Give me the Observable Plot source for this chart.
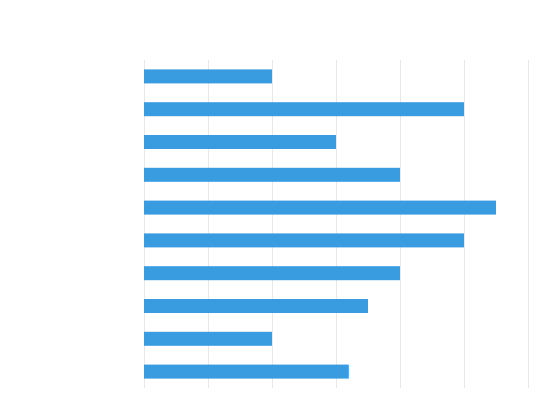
<!DOCTYPE html>
<html>
<head>
<meta charset="utf-8">
<script src="https://cdn.jsdelivr.net/npm/d3@7"></script>
<script src="https://cdn.jsdelivr.net/npm/@observablehq/plot@0.6"></script>
<style>
  body { margin: 0; background: #fff; }
  svg { display: block; }
</style>
</head>
<body>
<div id="chart"></div>
<script>
const categories = ["A", "B", "C", "D", "E", "F", "G", "H", "I", "J"];
const values = [2, 5, 3, 4, 5.5, 5, 4, 3.5, 2, 3.2];
const xTicks = [0, 1, 2, 3, 4, 5, 6];

const data = categories.map((c, i) => ({category: c, value: values[i]}));

const chart = Plot.plot({
  width: 550,
  height: 420,
  marginLeft: 144,
  marginRight: 22,
  marginTop: 60,
  marginBottom: 32,
  style: {background: "#fff"},
  x: {domain: [0, 6], axis: null},
  y: {domain: categories, axis: null, round: false, paddingInner: 0.573, paddingOuter: 0.2865},
  marks: [
    Plot.ruleX(xTicks, {stroke: "#e8e8e8", strokeWidth: 1, strokeOpacity: 1}),
    Plot.barX(data, {x: "value", y: "category", fill: "#3a9ce0"})
  ]
});
document.getElementById("chart").appendChild(chart);
</script>
</body>
</html>
